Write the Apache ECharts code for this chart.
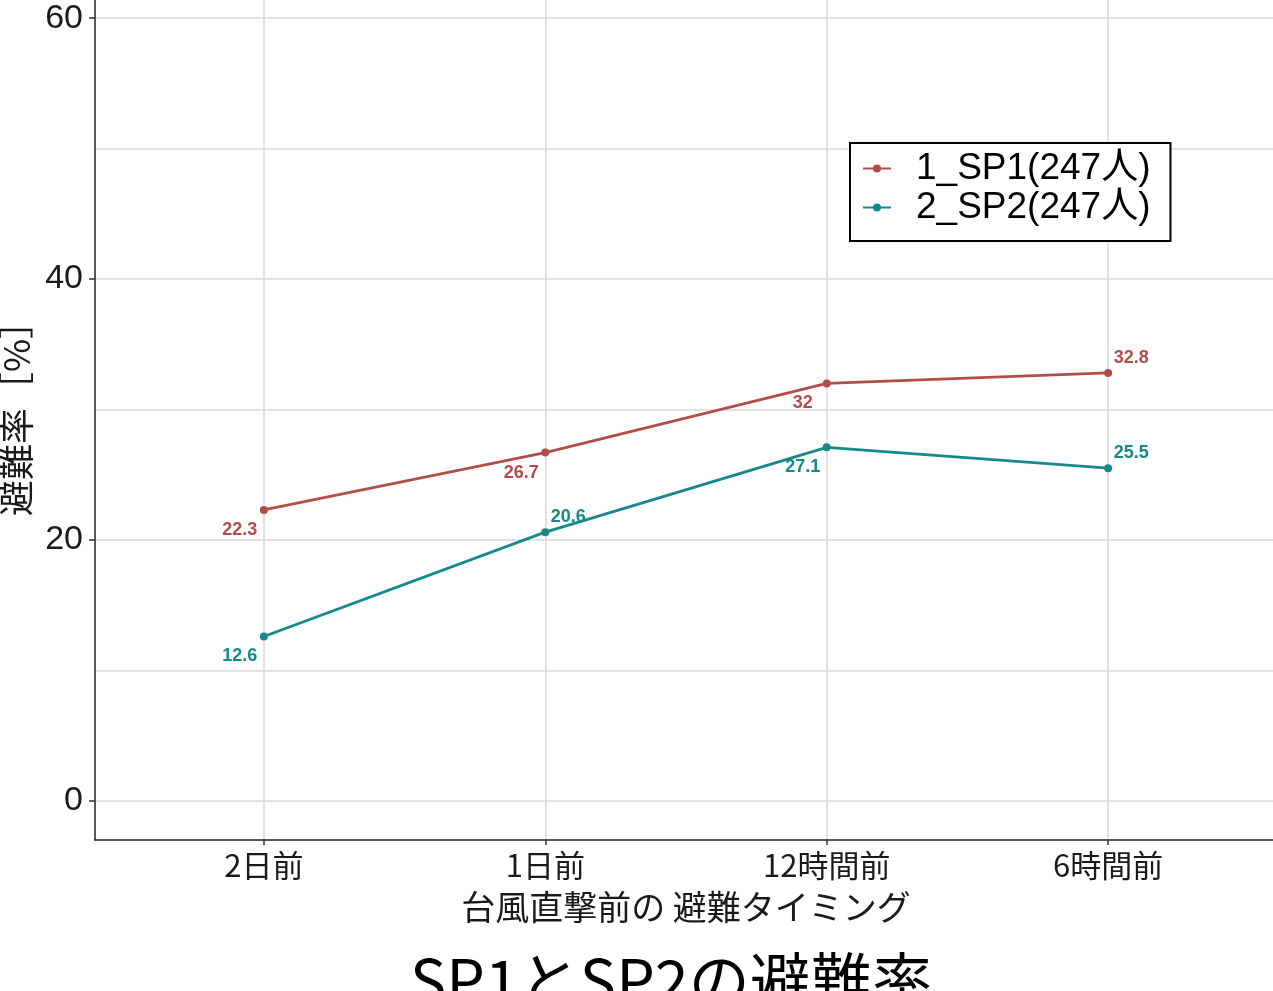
<!DOCTYPE html>
<html>
<head>
<meta charset="utf-8">
<script src="https://cdn.jsdelivr.net/npm/echarts@6/dist/echarts.min.js"></script>
<style>
html,body{margin:0;padding:0;background:#fff;}
#main{width:1273px;height:991px;}
</style>
</head>
<body>
<div id="main"></div>
<script>
const categories = ['2日前', '1日前', '12時間前', '6時間前'];
const seriesNames = ['1_SP1(247人)', '2_SP2(247人)'];
const sp1Values = [22.3, 26.7, 32, 32.8];
const sp2Values = [12.6, 20.6, 27.1, 25.5];
const yTickLabels = [0, 20, 40, 60];
const yGridValues = [0, 10, 20, 30, 40, 50, 60];

const colors = ['#b24e49', '#17898a'];
const FONT = '"Liberation Sans", "Noto Sans CJK JP", sans-serif';
const CJK = '"Noto Sans CJK JP", "Liberation Sans", sans-serif';

// which labels sit above-right (others below-left)
const aboveRight = [[3], [1, 3]];

function makeSeries(name, values, idx) {
  return {
    name: name,
    type: 'line',
    yAxisIndex: 0,
    data: values.map((v, i) => ({
      value: [i, v],
      label: aboveRight[idx].includes(i)
        ? { offset: [23, -15] }
        : { offset: [-24, 20] }
    })),
    symbol: 'circle',
    symbolSize: 8,
    lineStyle: { width: 2.8, color: colors[idx] },
    itemStyle: { color: colors[idx] },
    label: {
      show: true,
      position: 'inside',
      formatter: p => String(p.value[1]),
      color: colors[idx],
      fontFamily: FONT,
      fontWeight: 'bold',
      fontSize: 18
    },
    emphasis: { disabled: true },
    animation: false
  };
}

const chart = echarts.init(document.getElementById('main'), null, { renderer: 'canvas' });
chart.setOption({
  backgroundColor: '#ffffff',
  animation: false,
  title: {
    text: 'SP1とSP2の避難率',
    left: 405,
    top: 945,
    textStyle: { fontFamily: CJK, fontSize: 61, fontWeight: 'normal', color: '#000' }
  },
  legend: {
    left: 850,
    top: 143,
    orient: 'vertical',
    backgroundColor: '#fff',
    borderColor: '#000',
    borderWidth: 2,
    padding: [7, 20, 15, 12],
    itemGap: 2,
    itemWidth: 28,
    itemHeight: 10,
    textStyle: { fontFamily: FONT, fontSize: 37, color: '#000', padding: [0, 0, 0, 20] },
    data: seriesNames
  },
  grid: { left: 95, right: -4, top: -21, bottom: 151, containLabel: false, outerBoundsMode: 'none' },
  xAxis: {
    type: 'value',
    min: -0.6,
    max: 3.6,
    name: '台風直撃前の 避難タイミング',
    nameLocation: 'middle',
    nameGap: 50,
    nameTextStyle: { fontFamily: CJK, fontSize: 34, color: '#1a1a1a' },
    axisLine: { show: true, onZero: false, lineStyle: { color: '#222', width: 1.5 } },
    axisTick: { show: true, length: 5, customValues: [0, 1, 2, 3], lineStyle: { color: '#333', width: 1.5 } },
    axisLabel: {
      customValues: [0, 1, 2, 3],
      formatter: v => categories[Math.round(v)],
      fontFamily: CJK, fontSize: 31, color: '#1a1a1a', margin: 10
    },
    splitLine: { show: true, lineStyle: { color: '#d9d9d9', width: 1.5 } }
  },
  yAxis: [
    {
      type: 'value',
      min: -3,
      max: 63,
      name: '避難率［%］',
      nameLocation: 'middle',
      nameGap: 57,
      nameRotate: 90,
      nameTextStyle: { fontFamily: CJK, fontSize: 36, color: '#1a1a1a' },
      axisLine: { show: true, onZero: false, lineStyle: { color: '#222', width: 1.5 } },
      axisTick: { show: true, length: 6, customValues: yTickLabels, lineStyle: { color: '#333', width: 1.5 } },
      axisLabel: { customValues: yTickLabels, fontFamily: FONT, fontSize: 34, color: '#1a1a1a', margin: 12 },
      splitLine: { show: false }
    },
    {
      type: 'value',
      min: -3,
      max: 63,
      position: 'left',
      axisLine: { show: false, onZero: false },
      axisTick: { show: false, customValues: yGridValues },
      axisLabel: { show: false },
      splitLine: { show: true, lineStyle: { color: '#d9d9d9', width: 1.5 } }
    }
  ],
  series: [
    makeSeries(seriesNames[0], sp1Values, 0),
    makeSeries(seriesNames[1], sp2Values, 1)
  ]
});
</script>
</body>
</html>
